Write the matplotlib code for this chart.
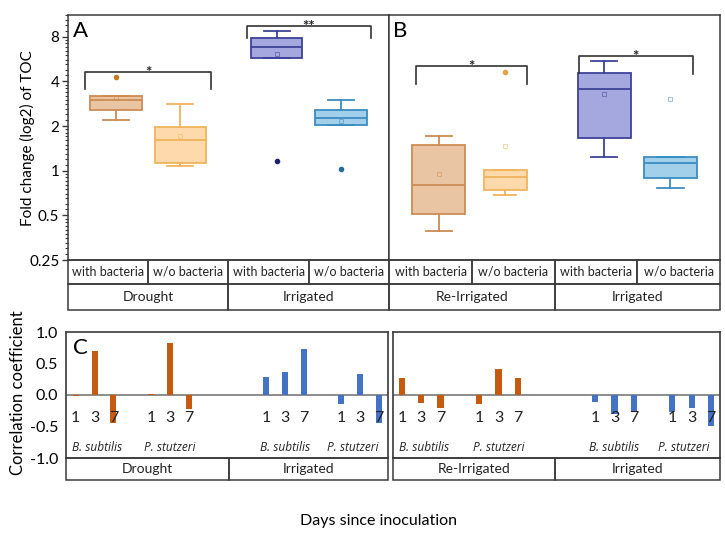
import numpy as np
import matplotlib
matplotlib.use("Agg")
import matplotlib.pyplot as plt
from matplotlib.ticker import FixedLocator, NullFormatter, LogLocator
from matplotlib.patches import Rectangle

plt.rcParams['font.family'] = ['Lato', 'DejaVu Sans']

# ---------------- data ----------------
groups_top = ["Drought", "Irrigated", "Re-Irrigated", "Irrigated"]
treatments = ["with bacteria", "w/o bacteria"]

# box statistics, order: A: Drought with, Drought w/o, Irrigated with, Irrigated w/o;
#                        B: Re-Irr with, Re-Irr w/o, Irrigated with, Irrigated w/o
box_q1 = [2.56, 1.12, 5.79, 2.02, 0.508, 0.74, 1.67, 0.897]
box_med = [3.0, 1.6, 6.83, 2.28, 0.80, 0.91, 3.54, 1.13]
box_q3 = [3.21, 1.96, 7.83, 2.56, 1.49, 1.01, 4.52, 1.24]
box_whislo = [2.19, 1.08, 5.79, 2.02, 0.394, 0.685, 1.23, 0.77]
box_whishi = [3.21, 2.83, 8.77, 2.98, 1.71, 1.01, 5.5, 1.24]
box_mean = [3.1, 1.72, 6.1, 2.15, 0.955, 1.47, 3.29, 3.06]
box_fliers = [[4.27], [], [1.16], [1.03], [], [4.61], [], []]

y_ticks_top = [0.25, 0.5, 1, 2, 4, 8]
y_ticklabels_top = ["0.25", "0.5", "1", "2", "4", "8"]

groups_bottom = ["Drought", "Irrigated", "Re-Irrigated", "Irrigated"]
species = ["B. subtilis", "P. stutzeri"]
days = ["1", "3", "7"]
# correlation coefficients: [B.sub d1, d3, d7, P.stut d1, d3, d7]
corr_drought = [-0.02, 0.70, -0.45, 0.02, 0.83, -0.23]
corr_irrigated_1 = [0.28, 0.37, 0.735, -0.14, 0.33, -0.45]
corr_reirrigated = [0.265, -0.12, -0.20, -0.15, 0.41, 0.275]
corr_irrigated_2 = [-0.11, -0.30, -0.27, -0.27, -0.21, -0.49]
y_ticks_bottom = [1.0, 0.5, 0.0, -0.5, -1.0]
y_ticklabels_bottom = ["1.0", "0.5", "0.0", "-0.5", "-1.0"]

# ---------------- styles ----------------
W, H = 725, 539
box_face = ['#e9c5a3', '#fdd9ab', '#a4a8de', '#a2cfe9'] * 2
box_edge = ['#cd8c52', '#f0b45c', '#3d4399', '#3a8dc1'] * 2
flier_col = ['#c27c28', '#e9a040', '#1d2170', '#236c9a'] * 2
bar_orange = '#c55a11'
bar_blue = '#4472c4'
line_col = '#3a3a3a'
text_col = '#222222'

fig = plt.figure(figsize=(W / 100, H / 100), dpi=100)


def frac(l, t, r, b):
    return [l / W, 1 - b / H, (r - l) / W, (b - t) / H]


# layout in pixels
A_l, A_r, B_r = 67.7, 389.3, 720.0
T_t, T_b = 15.0, 260.0
C1_l, C1_r, C2_l, C2_r = 66.3, 388.3, 392.7, 720.0
C_t, C_b = 332.0, 458.0

axA = fig.add_axes(frac(A_l, T_t, A_r, T_b))
axB = fig.add_axes(frac(A_r, T_t, B_r, T_b), sharey=axA)

box_pos = [0.6, 1.4, 2.6, 3.4]
box_w = [0.64, 0.64, 0.64, 0.64, 0.64, 0.52, 0.64, 0.64]

for i in range(8):
    ax = axA if i < 4 else axB
    st = dict(med=box_med[i], q1=box_q1[i], q3=box_q3[i], whislo=box_whislo[i],
              whishi=box_whishi[i], fliers=box_fliers[i], mean=box_mean[i])
    ec = box_edge[i]
    ax.bxp([st], positions=[box_pos[i % 4]], widths=[box_w[i]], capwidths=[box_w[i] * 0.5],
           patch_artist=True, showmeans=True,
           boxprops=dict(facecolor=box_face[i], edgecolor=ec, linewidth=1.3),
           medianprops=dict(color=ec, linewidth=1.3),
           whiskerprops=dict(color=ec, linewidth=1.3),
           capprops=dict(color=ec, linewidth=1.3),
           meanprops=dict(marker='s', markersize=3, markerfacecolor='none',
                          markeredgecolor=ec, markeredgewidth=0.6, alpha=0.6),
           flierprops=dict(marker='o', markersize=3, markerfacecolor=flier_col[i],
                           markeredgecolor=flier_col[i]))

for ax in (axA, axB):
    ax.set_yscale('log', base=2)
    ax.set_xlim(0, 4)
    ax.set_xticks([])
    for s in ax.spines.values():
        s.set_color(line_col)
        s.set_linewidth(1.1)
axA.set_ylim(0.25, 11.2)
axA.yaxis.set_major_locator(FixedLocator(y_ticks_top))
axA.set_yticklabels(y_ticklabels_top)
axA.yaxis.set_minor_locator(LogLocator(base=2, subs=np.arange(1.1, 2.0, 0.1)))
axA.yaxis.set_minor_formatter(NullFormatter())
axA.tick_params(axis='y', which='major', length=4, width=1, labelsize=11, color=line_col, pad=2)
axA.tick_params(axis='y', which='minor', length=2, width=0.8, color=line_col)
axB.tick_params(axis='y', which='both', left=False, labelleft=False)

fig.text(27.5 / W, 1 - 138 / H, "Fold change (log2) of TOC", rotation=90, ha='center',
         va='center', fontsize=11)

axA.text(0.015, 0.975, "A", transform=axA.transAxes, fontsize=16, va='top', ha='left')
axB.text(0.012, 0.975, "B", transform=axB.transAxes, fontsize=16, va='top', ha='left')


def bracket(ax, x0, x1, ytop, y0, y1, label):
    ax.plot([x0, x0, x1, x1], [y0, ytop, ytop, y1], color='#333333', lw=1.2, clip_on=False)
    ax.annotate(label, xy=((x0 + x1) / 2, ytop), xytext=(0, -3.5), textcoords='offset points',
                ha='center', va='baseline', fontsize=11, fontweight='bold', color=text_col)


bracket(axA, 0.22, 1.78, 4.61, 3.54, 3.54, "*")
bracket(axA, 2.23, 3.77, 9.48, 7.83, 7.83, "**")
bracket(axB, 0.32, 1.66, 5.04, 3.85, 3.85, "*")
bracket(axB, 2.29, 3.67, 5.95, 4.55, 4.45, "*")

# ---------------- bottom panel ----------------
axC1 = fig.add_axes(frac(C1_l, C_t, C1_r, C_b))
axC2 = fig.add_axes(frac(C2_l, C_t, C2_r, C_b))

panels = [
    (axC1, [corr_drought, corr_irrigated_1], [bar_orange, bar_blue], [0.5, 10.6], 17.1),
    (axC2, [corr_reirrigated, corr_irrigated_2], [bar_orange, bar_blue], [0.48, 10.49], 16.96),
]
for ax, vals_list, cols, bases, xmax in panels:
    ax.axhline(0, color='#8c8c8c', lw=1.4, zorder=1)
    for vals, col, base in zip(vals_list, cols, bases):
        xs = [base + s * 4 + d for s in range(2) for d in range(3)]
        ax.bar(xs, vals, width=0.32, color=col, zorder=2)
        for x, lab in zip(xs, days * 2):
            ax.text(x, -0.37, lab, ha='center', va='center', fontsize=11.5, color=text_col, zorder=3)
        for s in range(2):
            xc = min(max(base + s * 4 + 1, 1.65), xmax - 1.9)
            ax.text(xc, -0.83, species[s], ha='center', va='center',
                    fontsize=8.6, style='italic', color=text_col,
                    family=['Open Sans', 'DejaVu Sans'])
    ax.set_xlim(0, xmax)
    ax.set_ylim(-1, 1)
    ax.set_xticks([])
    for s in ax.spines.values():
        s.set_color(line_col)
        s.set_linewidth(1.2)

axC1.yaxis.set_major_locator(FixedLocator(y_ticks_bottom))
axC1.set_yticklabels(y_ticklabels_bottom)
axC1.tick_params(axis='y', length=0, labelsize=11.5, pad=6)
axC2.set_yticks([])
axC1.text(0.02, 0.95, "C", transform=axC1.transAxes, fontsize=16, va='top', ha='left')
fig.text(18 / W, 1 - 393 / H, "Correlation coefficient", rotation=90, ha='center', va='center',
         fontsize=12)
fig.text(379 / W, 1 - 521 / H, "Days since inoculation", ha='center', va='center', fontsize=11.5)

# ---------------- category tables ----------------
ov = fig.add_axes([0, 0, 1, 1])
ov.set_xlim(0, W)
ov.set_ylim(H, 0)
ov.axis('off')


def cell(l, t, r, b, text, fs):
    ov.add_patch(Rectangle((l, t), r - l, b - t, fill=False, edgecolor=line_col, lw=1.1))
    ov.text((l + r) / 2, (t + b) / 2, text, ha='center', va='center', fontsize=fs, color=text_col)


colA = (A_r - A_l) / 4
colB = (B_r - A_r) / 4
col_edges = [A_l + k * colA for k in range(5)] + [A_r + k * colB for k in range(1, 5)]
for k in range(8):
    cell(col_edges[k], T_b, col_edges[k + 1], 284, treatments[k % 2], 9)
for g in range(4):
    cell(col_edges[2 * g], 284, col_edges[2 * g + 2], 310, groups_top[g], 10)

c_edges = [(C1_l, 229.0), (229.0, C1_r), (C2_l, 555.0), (555.0, C2_r)]
for g, (l, r) in enumerate(c_edges):
    cell(l, C_b, r, 480, groups_bottom[g], 10)

fig.savefig("out.png", dpi=100)
